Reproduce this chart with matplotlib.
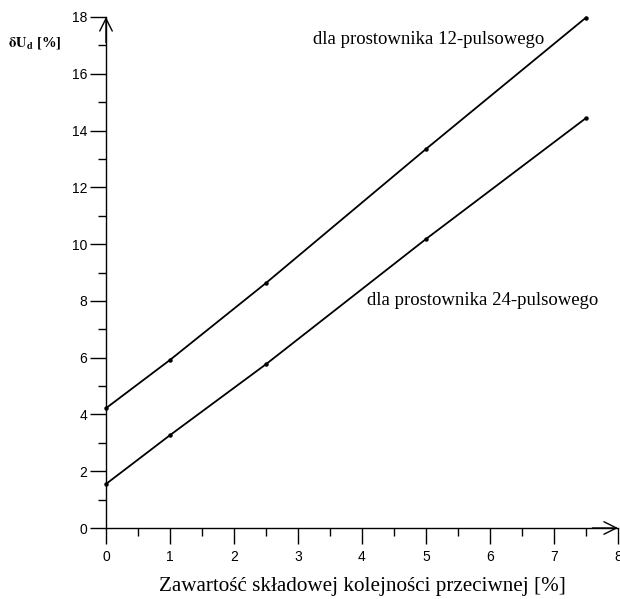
import matplotlib
matplotlib.use("Agg")
import matplotlib.pyplot as plt
from matplotlib.ticker import MultipleLocator

# zawartosc skladowej kolejnosci przeciwnej [%]
x_vals = [0, 1, 2.5, 5, 7.5]
du_12 = [4.22, 5.92, 8.63, 13.35, 17.98]
du_24 = [1.55, 3.27, 5.77, 10.18, 14.44]

label_12 = "dla prostownika 12-pulsowego"
label_24 = "dla prostownika 24-pulsowego"
x_title = "Zawartość składowej kolejności przeciwnej [%]"

serif = "Liberation Serif"
sans = "Liberation Sans"

fig = plt.figure(figsize=(6.2, 5.99), dpi=100)
ax = fig.add_axes([106 / 620, 71 / 599, 512 / 620, 511 / 599])

for ys in (du_12, du_24):
    ax.plot(x_vals, ys, color="black", lw=1.3, marker="o", ms=2.2, clip_on=False, zorder=3)

ax.set_xlim(0, 8)
ax.set_ylim(0, 18)

for s in ("top", "right"):
    ax.spines[s].set_visible(False)
for s in ("left", "bottom"):
    ax.spines[s].set_linewidth(1.0)

ax.xaxis.set_major_locator(MultipleLocator(1))
ax.xaxis.set_minor_locator(MultipleLocator(0.5))
ax.yaxis.set_major_locator(MultipleLocator(2))
ax.yaxis.set_minor_locator(MultipleLocator(1))
ax.tick_params(which="major", direction="out", length=11.5, width=1.0, labelsize=10)
ax.tick_params(which="minor", direction="out", length=5.8, width=1.0)
ax.tick_params(axis="x", which="major", pad=4)
ax.tick_params(axis="y", which="major", pad=2)
for lab in ax.get_xticklabels() + ax.get_yticklabels():
    lab.set_fontfamily(sans)

# open chevron arrow heads at the axis ends
arrow = dict(arrowstyle="->,head_length=0.9,head_width=0.45", lw=1.0, color="black",
             shrinkA=0, shrinkB=0)
ax.annotate("", xy=(1, 0), xytext=(0.95, 0), xycoords="axes fraction", arrowprops=arrow)
ax.annotate("", xy=(0, 1), xytext=(0, 0.95), xycoords="axes fraction", arrowprops=arrow)

ax.text(3.23, 17.2, label_12, family=serif, fontsize=13.5, va="center", ha="left")
ax.text(4.08, 8.0, label_24, family=serif, fontsize=13.5, va="center", ha="left")

ax.set_xlabel(x_title, family=serif, fontsize=15.2, labelpad=10)
fig.text(8 / 620, 1 - 43 / 599, r"$\mathbf{\delta U_d}$ [%]", family=serif,
         fontsize=10.5, fontweight="bold", va="center", ha="left",
         math_fontfamily="stix")

fig.savefig("out.png", dpi=100)
